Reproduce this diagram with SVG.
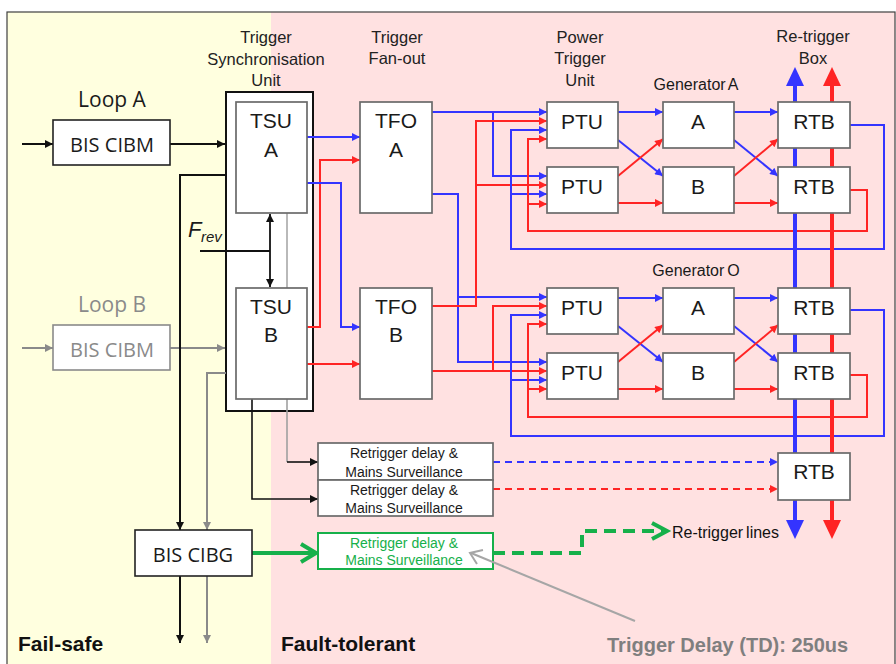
<svg xmlns="http://www.w3.org/2000/svg" width="896" height="664" viewBox="0 0 896 664">
<style>
.box{fill:#fff;stroke:#6a6a6a;stroke-width:1.7}
.bbox{fill:#fff;stroke:#222;stroke-width:1.6}
.t{font-family:"Liberation Sans",Arial,sans-serif;fill:#1a1a1a;text-anchor:middle}
.big{font-size:21px}
.hdr{font-size:16.5px;fill:#222}
.seg{font-family:"Open Sans","Noto Sans",sans-serif;font-size:20px;text-anchor:middle;fill:#1a1a1a}
.small{font-size:14px}
.b{fill:none;stroke:#3434ff;stroke-width:2}
.r{fill:none;stroke:#ff2424;stroke-width:2}
.k{fill:none;stroke:#111;stroke-width:2}
.g{fill:none;stroke:#8a8a8a;stroke-width:2}
</style>
<defs>
<marker id="ab" viewBox="0 0 10 10" refX="10" refY="5" markerWidth="9" markerHeight="8" markerUnits="userSpaceOnUse" orient="auto"><path d="M0,0L10,5L0,10z" fill="#3434ff"/></marker>
<marker id="ar" viewBox="0 0 10 10" refX="10" refY="5" markerWidth="9" markerHeight="8" markerUnits="userSpaceOnUse" orient="auto"><path d="M0,0L10,5L0,10z" fill="#ff2424"/></marker>
<marker id="ak" viewBox="0 0 10 10" refX="10" refY="5" markerWidth="9" markerHeight="8" markerUnits="userSpaceOnUse" orient="auto"><path d="M0,0L10,5L0,10z" fill="#111"/></marker>
<marker id="ag" viewBox="0 0 10 10" refX="10" refY="5" markerWidth="9" markerHeight="8" markerUnits="userSpaceOnUse" orient="auto"><path d="M0,0L10,5L0,10z" fill="#8a8a8a"/></marker>
<marker id="aks" viewBox="0 0 10 10" refX="10" refY="5" markerWidth="9" markerHeight="8" markerUnits="userSpaceOnUse" orient="auto-start-reverse"><path d="M0,0L10,5L0,10z" fill="#111"/></marker>
</defs>

<!-- backgrounds -->
<rect x="0" y="0" width="896" height="664" fill="#fff"/>
<rect x="7" y="12" width="264" height="660" fill="#ffffdf"/>
<rect x="271" y="12" width="624" height="660" fill="#ffe1e1"/>
<rect x="7" y="12" width="888" height="660" fill="none" stroke="#404040" stroke-width="1.2"/>

<!-- TSU outer unit -->
<g id="tsu-unit">
<rect x="226" y="92" width="87" height="319" fill="#fff" stroke="#111" stroke-width="2"/>
</g>

<g id="connectors">
<!-- loops -->
<path class="k" d="M22,144H53" marker-end="url(#ak)"/>
<path class="k" d="M170,144H225" marker-end="url(#ak)"/>
<path class="g" d="M22,348H53" marker-end="url(#ag)"/>
<path class="g" d="M170,348H225" marker-end="url(#ag)"/>
<path class="k" d="M226,175H180V530" marker-end="url(#ak)"/>
<path class="g" d="M226,373H207V530" marker-end="url(#ag)"/>
<path class="k" d="M180,576V643" marker-end="url(#ak)"/>
<path class="g" d="M207,576V643" marker-end="url(#ag)"/>
<!-- Frev -->
<path class="k" d="M200,251H270" style="stroke-width:1.8"/>
<path class="k" d="M270,214V287" style="stroke-width:1.8" marker-start="url(#aks)" marker-end="url(#aks)"/>
<path class="g" d="M287,213V288" style="stroke:#a8a8a8;stroke-width:1.6"/>
<path class="g" d="M287,399V462" style="stroke:#a0a0a0;stroke-width:1.6"/>
<path class="k" d="M287,462H318" style="stroke-width:1.6" marker-end="url(#ak)"/>
<path class="k" d="M252,399V499H318" style="stroke-width:1.6" marker-end="url(#ak)"/>
<!-- TSU to TFO -->
<path class="b" d="M307,137H360" marker-end="url(#ab)"/>
<path class="r" d="M307,327H320V160H360" marker-end="url(#ar)"/>
<path class="b" d="M307,183H341V327H360" marker-end="url(#ab)"/>
<path class="r" d="M307,364H360" marker-end="url(#ar)"/>
<!-- TFO to PTU -->
<path class="b" d="M432,112H547" marker-end="url(#ab)"/>
<path class="b" d="M493,112V176H547" marker-end="url(#ab)"/>
<path class="b" d="M432,194H458V362H547" marker-end="url(#ab)"/>
<path class="b" d="M458,297H547" marker-end="url(#ab)"/>
<path class="r" d="M432,306H476V121H547" marker-end="url(#ar)"/>
<path class="r" d="M476,185H547" marker-end="url(#ar)"/>
<path class="r" d="M432,371H547" marker-end="url(#ar)"/>
<path class="r" d="M493,371V306H547" marker-end="url(#ar)"/>
<!-- feedback generator A -->
<path class="b" d="M850,125H884V249H511V130H547" marker-end="url(#ab)"/>
<path class="b" d="M511,194H547" marker-end="url(#ab)"/>
<path class="r" d="M850,190H867V231H528V139H547" marker-end="url(#ar)"/>
<path class="r" d="M528,204H547" marker-end="url(#ar)"/>
<!-- feedback generator O -->
<path class="b" d="M850,310H884V436H511V315H547" marker-end="url(#ab)"/>
<path class="b" d="M511,380H547" marker-end="url(#ab)"/>
<path class="r" d="M850,375H867V417H528V324H547" marker-end="url(#ar)"/>
<path class="r" d="M528,389H547" marker-end="url(#ar)"/>
<!-- PTU to generator A -->
<path class="b" d="M618,112H663" marker-end="url(#ab)"/>
<path class="b" d="M618,140L663,176" marker-end="url(#ab)"/>
<path class="r" d="M618,176L663,139" marker-end="url(#ar)"/>
<path class="r" d="M618,203H663" marker-end="url(#ar)"/>
<path class="b" d="M734,112H778" marker-end="url(#ab)"/>
<path class="b" d="M734,140L778,176" marker-end="url(#ab)"/>
<path class="r" d="M734,176L778,139" marker-end="url(#ar)"/>
<path class="r" d="M734,203H778" marker-end="url(#ar)"/>
<!-- PTU to generator O -->
<path class="b" d="M618,298H663" marker-end="url(#ab)"/>
<path class="b" d="M618,326L663,362" marker-end="url(#ab)"/>
<path class="r" d="M618,362L663,325" marker-end="url(#ar)"/>
<path class="r" d="M618,389H663" marker-end="url(#ar)"/>
<path class="b" d="M734,298H778" marker-end="url(#ab)"/>
<path class="b" d="M734,326L778,362" marker-end="url(#ab)"/>
<path class="r" d="M734,362L778,325" marker-end="url(#ar)"/>
<path class="r" d="M734,389H778" marker-end="url(#ar)"/>
<!-- re-trigger thick lines -->
<path d="M795,84V521" stroke="#3434ff" stroke-width="4" fill="none"/>
<path d="M832,84V521" stroke="#ff2424" stroke-width="4" fill="none"/>
<polygon points="795,67 786,86 804,86" fill="#3434ff"/>
<polygon points="832,67 823,86 841,86" fill="#ff2424"/>
<polygon points="795,539 786,520 804,520" fill="#3434ff"/>
<polygon points="832,539 823,520 841,520" fill="#ff2424"/>
<!-- dashed -->
<path class="b" d="M493,462H778" stroke-dasharray="7,5" marker-end="url(#ab)"/>
<path class="r" d="M493,489H778" stroke-dasharray="7,5" marker-end="url(#ar)"/>
<!-- green -->
<path d="M252,553H314" stroke="#16b04a" stroke-width="4" fill="none"/>
<polyline points="301,544 316,553 301,562" stroke="#16b04a" stroke-width="4" fill="none"/>
<path d="M493,553H582V531H663" stroke="#16b04a" stroke-width="4" fill="none" stroke-dasharray="12,7"/>
<polyline points="652,523 667,531 652,539" stroke="#16b04a" stroke-width="4" fill="none"/>
</g>

<!-- nodes -->
<g id="cibm-a"><rect class="bbox" x="53" y="120" width="117" height="45"/><text class="seg" x="112" y="152">BIS CIBM</text></g>
<g id="cibm-b"><rect x="53" y="325" width="117" height="45" fill="#fff" stroke="#8a8a8a" stroke-width="1.6"/><text class="seg" x="112" y="357" style="fill:#8a8a8a">BIS CIBM</text></g>
<g id="cibg"><rect class="bbox" x="135" y="530" width="117" height="46"/><text class="seg" x="193" y="562">BIS CIBG</text></g>
<g id="tsu-a"><rect class="box" x="236" y="102" width="71" height="111"/><text class="t big" x="271" y="128">TSU</text><text class="t big" x="271" y="157">A</text></g>
<g id="tsu-b"><rect class="box" x="236" y="288" width="71" height="111"/><text class="t big" x="271" y="314">TSU</text><text class="t big" x="271" y="342">B</text></g>
<g id="tfo-a"><rect class="box" x="360" y="102" width="72" height="111"/><text class="t big" x="396" y="128">TFO</text><text class="t big" x="396" y="157">A</text></g>
<g id="tfo-b"><rect class="box" x="360" y="288" width="72" height="111"/><text class="t big" x="396" y="314">TFO</text><text class="t big" x="396" y="342">B</text></g>
<g id="ptu-1"><rect class="box" x="547" y="102" width="71" height="46"/><text class="t big" x="582" y="129">PTU</text></g>
<g id="ptu-2"><rect class="box" x="547" y="167" width="71" height="46"/><text class="t big" x="582" y="194">PTU</text></g>
<g id="ptu-3"><rect class="box" x="547" y="288" width="71" height="46"/><text class="t big" x="582" y="315">PTU</text></g>
<g id="ptu-4"><rect class="box" x="547" y="353" width="71" height="46"/><text class="t big" x="582" y="380">PTU</text></g>
<g id="gen-a-a"><rect class="box" x="663" y="102" width="71" height="46"/><text class="t big" x="698" y="129">A</text></g>
<g id="gen-a-b"><rect class="box" x="663" y="167" width="71" height="46"/><text class="t big" x="698" y="194">B</text></g>
<g id="gen-o-a"><rect class="box" x="663" y="288" width="71" height="46"/><text class="t big" x="698" y="315">A</text></g>
<g id="gen-o-b"><rect class="box" x="663" y="353" width="71" height="46"/><text class="t big" x="698" y="380">B</text></g>
<g id="rtb-1"><rect class="box" x="778" y="102" width="72" height="46"/><text class="t big" x="814" y="129">RTB</text></g>
<g id="rtb-2"><rect class="box" x="778" y="167" width="72" height="46"/><text class="t big" x="814" y="194">RTB</text></g>
<g id="rtb-3"><rect class="box" x="778" y="288" width="72" height="46"/><text class="t big" x="814" y="315">RTB</text></g>
<g id="rtb-4"><rect class="box" x="778" y="353" width="72" height="46"/><text class="t big" x="814" y="380">RTB</text></g>
<g id="rtb-5"><rect class="box" x="778" y="453" width="72" height="47"/><text class="t big" x="814" y="479">RTB</text></g>
<g id="rdm-1"><rect class="box" x="318" y="443" width="175" height="37"/><text class="t small" x="404" y="458">Retrigger delay &amp;</text><text class="t small" x="404" y="477">Mains Surveillance</text></g>
<g id="rdm-2"><rect class="box" x="318" y="480" width="175" height="36"/><text class="t small" x="404" y="495">Retrigger delay &amp;</text><text class="t small" x="404" y="513">Mains Surveillance</text></g>
<g id="rdm-g"><rect x="318" y="533" width="175" height="36" fill="#fff" stroke="#16b04a" stroke-width="2"/><text class="t small" x="404" y="548" style="fill:#16b04a">Retrigger delay &amp;</text><text class="t small" x="404" y="565" style="fill:#16b04a">Mains Surveillance</text></g>

<!-- pointer to green box (drawn on top) -->
<g id="pointer">
<path d="M635,621L471,553" stroke="#a6a6a6" stroke-width="2" fill="none"/>
<polyline points="483,550 470,553 477,564" stroke="#a6a6a6" stroke-width="2" fill="none"/>
</g>

<!-- labels -->
<g id="labels">
<text class="seg" x="112" y="107" style="font-size:21px">Loop A</text>
<text class="seg" x="112" y="312" style="font-size:21px;fill:#8a8a8a">Loop B</text>
<text class="t hdr" x="266" y="43">Trigger</text>
<text class="t hdr" x="266" y="65">Synchronisation</text>
<text class="t hdr" x="266" y="86">Unit</text>
<text class="t hdr" x="397" y="43">Trigger</text>
<text class="t hdr" x="397" y="64">Fan-out</text>
<text class="t hdr" x="580" y="43">Power</text>
<text class="t hdr" x="580" y="64">Trigger</text>
<text class="t hdr" x="580" y="86">Unit</text>
<text class="t hdr" x="813" y="42">Re-trigger</text>
<text class="t hdr" x="813" y="64">Box</text>
<text class="t" x="696" y="90" style="font-size:16px" word-spacing="-1.5">Generator A</text>
<text class="t" x="696" y="276" style="font-size:16px" word-spacing="-1.5">Generator O</text>
<text x="188" y="237" style="font-family:'Liberation Sans',Arial,sans-serif;font-style:italic;font-size:22px;fill:#1a1a1a">F</text>
<text x="201" y="242" style="font-family:'Liberation Sans',Arial,sans-serif;font-style:italic;font-size:15px;fill:#1a1a1a">rev</text>
<text x="672" y="538" style="font-family:'Liberation Sans',Arial,sans-serif;font-size:16px;fill:#111" word-spacing="-1.5">Re-trigger lines</text>
<text x="18" y="651" style="font-family:'Liberation Sans',Arial,sans-serif;font-weight:bold;font-size:21px;fill:#111">Fail-safe</text>
<text x="281" y="651" style="font-family:'Liberation Sans',Arial,sans-serif;font-weight:bold;font-size:21px;fill:#111">Fault-tolerant</text>
<text x="607" y="652" style="font-family:'Liberation Sans',Arial,sans-serif;font-weight:bold;font-size:20px;fill:#7f7f7f">Trigger Delay (TD): 250us</text>
</g>
</svg>
